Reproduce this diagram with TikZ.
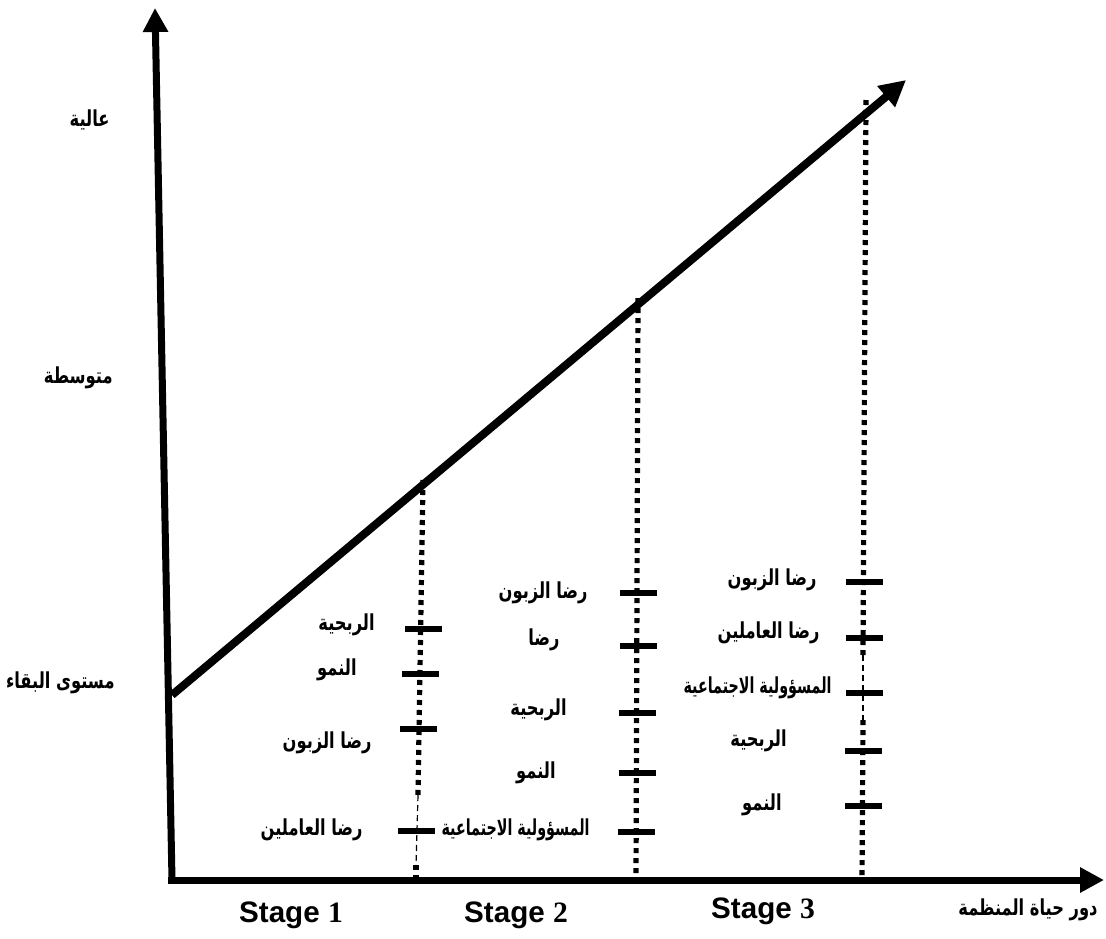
\documentclass[tikz,border=0pt]{standalone}
\usepackage{fontspec}
\usepackage{graphicx}
\setmainfont{Liberation Serif}
\newfontfamily\arabicfont[Script=Arabic]{DejaVu Sans}
\newfontfamily\stagefont{Liberation Sans}
\TeXXeTstate=1
\usetikzlibrary{arrows.meta}
\newcommand{\artxt}[2][0.74]{\scalebox{#1}[1]{\beginR #2\endR}}
\begin{document}
\begin{tikzpicture}[x=0.5pt,y=-0.5pt,
  axis/.style={line width=3.5pt,-{Triangle[length=12pt,width=12pt]}},
  dotline/.style={line width=2.6pt,dash pattern=on 2.5pt off 2.5pt},
  thindash/.style={line width=0.6pt,dash pattern=on 3pt off 2pt},
  tick/.style={line width=2.6pt},
  ar/.style={font=\arabicfont\bfseries\fontsize{11}{13}\selectfont,inner sep=0pt,anchor=east},
  stagelbl/.style={font=\stagefont\bfseries\fontsize{14.8}{16}\selectfont,inner sep=0pt}
]
\useasboundingbox (0,0) rectangle (1106,938);
% axes
\coordinate (O) at (172,880);
\coordinate (Ytip) at (155,8);
\coordinate (Xtip) at (1104,880);
\coordinate (Ostart) at (168,880);
\draw[axis] (O) -- (Ytip);
\draw[axis] (Ostart) -- (Xtip);
% dotted verticals
\coordinate (d1t) at (423,480);
\coordinate (d1m) at (418,795);
\coordinate (d1b) at (416,865);
\coordinate (d1e) at (416,880);
\draw[dotline] (d1t) -- (d1m);
\draw[thindash] (d1m) -- (d1b);
\draw[dotline] (d1b) -- (d1e);
\coordinate (d2t) at (638,298);
\coordinate (d2b) at (636,880);
\draw[dotline] (d2t) -- (d2b);
\coordinate (d3t) at (866,100);
\coordinate (d3m) at (863,655);
\coordinate (d3n) at (863,720);
\coordinate (d3b) at (862,880);
\draw[dotline] (d3t) -- (d3m);
\draw[thindash] (d3m) -- (d3n);
\draw[dotline] (d3n) -- (d3b);
% diagonal
\coordinate (Dstart) at (172,695);
\coordinate (Dtip) at (906,80);
\draw[line width=4pt,-{Triangle[length=13pt,width=13pt]}] (Dstart) -- (Dtip);
% ticks stage 1
\coordinate (t11) at (423,629);
\coordinate (t12) at (420,674);
\coordinate (t13) at (418,729);
\coordinate (t14) at (416,831);
\foreach \p in {t11,t12,t13,t14} \draw[tick] ([xshift=-9]\p) -- ([xshift=9.5]\p);
% ticks stage 2
\coordinate (t21) at (638,593);
\coordinate (t22) at (638,646);
\coordinate (t23) at (637,713);
\coordinate (t24) at (637,773);
\coordinate (t25) at (636,832);
\foreach \p in {t21,t22,t23,t24,t25} \draw[tick] ([xshift=-9]\p) -- ([xshift=9.5]\p);
% ticks stage 3
\coordinate (t31) at (864,582);
\coordinate (t32) at (864,638);
\coordinate (t33) at (864,693);
\coordinate (t34) at (863,751);
\coordinate (t35) at (863,806);
\foreach \p in {t31,t32,t33,t34,t35} \draw[tick] ([xshift=-9]\p) -- ([xshift=9.5]\p);
% left labels
\node[ar] (hi) at (110,120) {\artxt{عالية}};
\node[ar] (mid) at (113,378) {\artxt{متوسطة}};
\node[ar] (low) at (115,683) {\artxt{مستوى البقاء}};
% stage 1 labels
\node[ar] (s11) at (375,625) {\artxt{الربحية}};
\node[ar] (s12) at (357,670) {\artxt{النمو}};
\node[ar] (s13) at (372,743) {\artxt{رضا الزبون}};
\node[ar] (s14) at (363,830) {\artxt{رضا العاملين}};
% stage 2 labels
\node[ar] (s21) at (588,593) {\artxt{رضا الزبون}};
\node[ar] (s22) at (560,640) {\artxt{رضا}};
\node[ar] (s23) at (567,710) {\artxt{الربحية}};
\node[ar] (s24) at (556,773) {\artxt{النمو}};
\node[ar] (s25) at (590,830) {\artxt[0.65]{المسؤولية الاجتماعية}};
% stage 3 labels
\node[ar] (s31) at (817,580) {\artxt{رضا الزبون}};
\node[ar] (s32) at (820,633) {\artxt{رضا العاملين}};
\node[ar] (s33) at (832,688) {\artxt[0.65]{المسؤولية الاجتماعية}};
\node[ar] (s34) at (787,741) {\artxt{الربحية}};
\node[ar] (s35) at (782,805) {\artxt{النمو}};
% bottom labels
\node[stagelbl] (st1) at (291,915) {Stage {\rmfamily 1}};
\node[stagelbl] (st2) at (516,915) {Stage {\rmfamily 2}};
\node[stagelbl] (st3) at (763,911) {Stage {\rmfamily 3}};
\node[ar] (xl) at (1098,910) {\artxt{دور حياة المنظمة}};
\end{tikzpicture}
\end{document}
